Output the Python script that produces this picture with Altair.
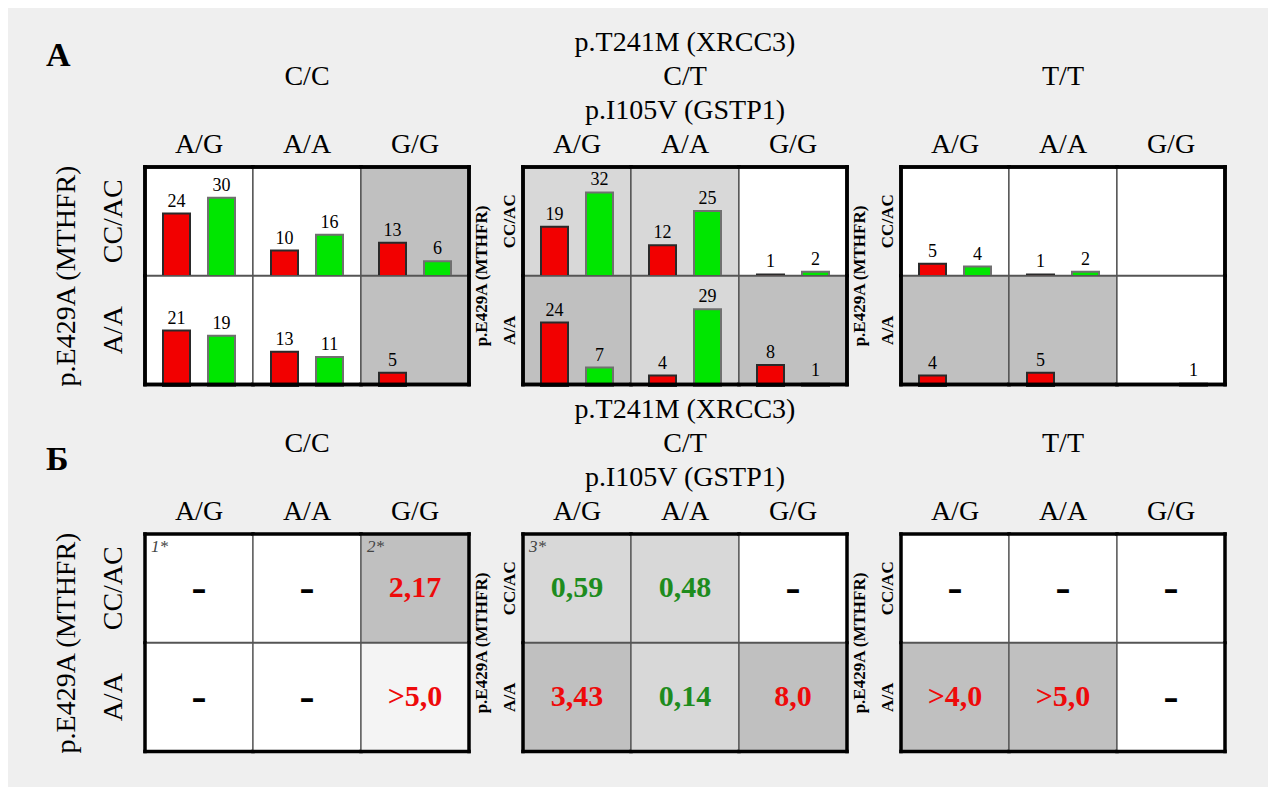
import altair as alt
import pandas as pd

# ---------------- data ----------------
xrcc3 = ["C/C", "C/T", "T/T"]          # p.T241M (XRCC3) panels
gstp1 = ["A/G", "A/A", "G/G"]          # p.I105V (GSTP1) columns
mthfr = ["CC/AC", "A/A"]               # p.E429A (MTHFR) rows
groups = ["red", "green"]

# Panel A counts  [xrcc3][mthfr][gstp1]
red_counts = [
    [[24, 10, 13], [21, 13, 5]],
    [[19, 12, 1], [24, 4, 8]],
    [[5, 1, 0], [4, 5, 0]],
]
green_counts = [
    [[30, 16, 6], [19, 11, 0]],
    [[32, 25, 2], [7, 29, 1]],
    [[4, 2, 0], [0, 0, 1]],
]
# cell shading codes: w = white, l = light grey, d = grey, v = very light
shade_a = [
    [["w", "w", "d"], ["w", "w", "d"]],
    [["l", "l", "w"], ["d", "l", "d"]],
    [["w", "w", "w"], ["d", "d", "w"]],
]

# Panel Б odds ratios
or_values = [
    [["–", "–", "2,17"], ["–", "–", ">5,0"]],
    [["0,59", "0,48", "–"], ["3,43", "0,14", "8,0"]],
    [["–", "–", "–"], [">4,0", ">5,0", "–"]],
]
# effect: r = risk (red), p = protective (green), n = none (dash)
or_effect = [
    [["n", "n", "r"], ["n", "n", "r"]],
    [["p", "p", "n"], ["r", "p", "r"]],
    [["n", "n", "n"], ["r", "r", "n"]],
]
shade_b = [
    [["w", "w", "d"], ["w", "w", "v"]],
    [["l", "l", "w"], ["d", "l", "d"]],
    [["w", "w", "w"], ["d", "d", "w"]],
]
notes = [
    [["1*", "", "2*"], ["", "", ""]],
    [["3*", "", ""], ["", "", ""]],
    [["", "", ""], ["", "", ""]],
]

panel_titles = [[" ", "C/C", " "],
                ["p.T241M (XRCC3)", "C/T", "p.I105V (GSTP1)"],
                [" ", "T/T", " "]]

# ---------------- styles ----------------
FONT = "Liberation Serif"
CW, CH = 108, 108.5
shade_scale = alt.Scale(domain=["w", "l", "d", "v"],
                        range=["#ffffff", "#d8d8d8", "#c0c0c0", "#f4f4f4"])


def frame_layers(base):
    bg = base.mark_rect(stroke="#555555", strokeWidth=1.3).encode(
        x=alt.value(0), x2=alt.value("width"), y=alt.value(0), y2=alt.value("height"),
        fill=alt.Fill("shade:N", scale=shade_scale, legend=None))
    rule = dict(color="black", strokeWidth=3.5, strokeCap="square")
    left = base.transform_filter(alt.datum.gstp1 == gstp1[0]).mark_rule(**rule).encode(
        x=alt.value(0), y=alt.value(0), y2=alt.value("height"))
    right = base.transform_filter(alt.datum.gstp1 == gstp1[-1]).mark_rule(**rule).encode(
        x=alt.value("width"), y=alt.value(0), y2=alt.value("height"))
    top = base.transform_filter(alt.datum.mthfr == mthfr[0]).mark_rule(**rule).encode(
        y=alt.value(0), x=alt.value(0), x2=alt.value("width"))
    bottom = base.transform_filter(alt.datum.mthfr == mthfr[-1]).mark_rule(**rule).encode(
        y=alt.value("height"), x=alt.value(0), x2=alt.value("width"))
    return bg, [left, right, top, bottom]


def facetize(layer, i):
    big = (i == 0)
    lab_size = 28 if big else 17
    row_header = alt.Header(
        labelFont=FONT, labelFontSize=lab_size, labelFontWeight="normal" if big else "bold",
        labelPadding=17 if big else 4,
        titleFont=FONT, titleFontSize=lab_size, titleFontWeight="normal" if big else "bold",
        titlePadding=8 if big else 0, labelColor="black", titleColor="black")
    col_header = alt.Header(
        labelFont=FONT, labelFontSize=28, labelPadding=8, labelColor="black",
        titleFont=FONT, titleFontSize=28, titleFontWeight="normal", titleColor="black",
        titleLineHeight=34, titlePadding=-4)
    return layer.facet(
        row=alt.Row("mthfr:N", sort=mthfr, title="p.E429A (MTHFR)", header=row_header),
        column=alt.Column("gstp1:N", sort=gstp1, title=panel_titles[i], header=col_header),
        spacing=0,
        bounds="flush",
    )


def panel_a(i):
    rows = []
    for r, m in enumerate(mthfr):
        for c, g in enumerate(gstp1):
            for grp, vals in (("red", red_counts), ("green", green_counts)):
                rows.append(dict(mthfr=m, gstp1=g, grp=grp, n=vals[i][r][c],
                                 shade=shade_a[i][r][c]))
    base = alt.Chart(pd.DataFrame(rows))
    bg, edges = frame_layers(base)
    xenc = alt.X("grp:N", scale=alt.Scale(domain=groups, paddingInner=0.4, paddingOuter=0.4),
                 axis=None)
    yscale = alt.Scale(domain=[0.6, 41.6], zero=False, nice=False)
    bars = base.transform_filter(alt.datum.n > 0).mark_bar(strokeWidth=2).encode(
        x=xenc,
        y=alt.Y("n:Q", scale=yscale, axis=None),
        y2=alt.value("height"),
        fill=alt.Fill("grp:N", scale=alt.Scale(domain=groups, range=["#f20000", "#00e600"]),
                      legend=None),
        stroke=alt.Stroke("grp:N", scale=alt.Scale(domain=groups, range=["#2a2a2a", "#707070"]),
                          legend=None),
    )
    labels = base.transform_filter(alt.datum.n > 0).mark_text(
        font=FONT, fontSize=18, baseline="bottom", dy=-3, color="black").encode(
        x=xenc, y=alt.Y("n:Q", scale=yscale, axis=None), text="n:Q")
    layer = alt.layer(bg, bars, labels, *edges).resolve_scale(
        fill="independent", stroke="independent").properties(width=CW, height=CH)
    return facetize(layer, i)


def panel_b(i):
    rows = []
    for r, m in enumerate(mthfr):
        for c, g in enumerate(gstp1):
            rows.append(dict(mthfr=m, gstp1=g, val=or_values[i][r][c], eff=or_effect[i][r][c],
                             shade=shade_b[i][r][c], note=notes[i][r][c]))
    base = alt.Chart(pd.DataFrame(rows))
    bg, edges = frame_layers(base)
    eff_scale = alt.Scale(domain=["r", "p", "n"], range=["#ee0a0a", "#1e8c1e", "#000000"])
    vals = base.transform_filter(alt.datum.eff != "n").mark_text(
        font=FONT, fontSize=30, fontWeight="bold").encode(
        x=alt.value(CW / 2), y=alt.value(CH / 2), text="val:N",
        color=alt.Color("eff:N", scale=eff_scale, legend=None))
    dashes = base.transform_filter(alt.datum.eff == "n").mark_text(
        font="DejaVu Sans", fontSize=30, fontWeight="bold", color="black").encode(
        x=alt.value(CW / 2), y=alt.value(CH / 2 + 2), text="val:N")
    note = base.transform_filter(alt.datum.note != "").mark_text(
        font=FONT, fontSize=17, fontStyle="italic", align="left", baseline="top",
        color="#444444").encode(x=alt.value(6), y=alt.value(5), text="note:N")
    layer = alt.layer(bg, vals, dashes, note, *edges).properties(width=CW, height=CH)
    return facetize(layer, i)


def label_title(t, dy):
    return alt.TitleParams(text=t, orient="top", anchor="start", frame="bounds",
                           font=FONT, fontSize=34, fontWeight="bold", color="black",
                           dx=-7, dy=dy)


row_a = alt.hconcat(*[panel_a(i) for i in range(3)], spacing=0).properties(
    title=label_title("A", 48))
row_b = alt.hconcat(*[panel_b(i) for i in range(3)], spacing=0).properties(
    title=label_title("Б", 85))

chart = alt.vconcat(row_a, row_b, spacing=8).properties(
    background="#efefef",
    padding={"left": 37, "top": 21, "right": 40, "bottom": 32},
).configure_view(stroke="transparent")

chart.save("out.html", embed_options={"renderer": "svg", "actions": False})
